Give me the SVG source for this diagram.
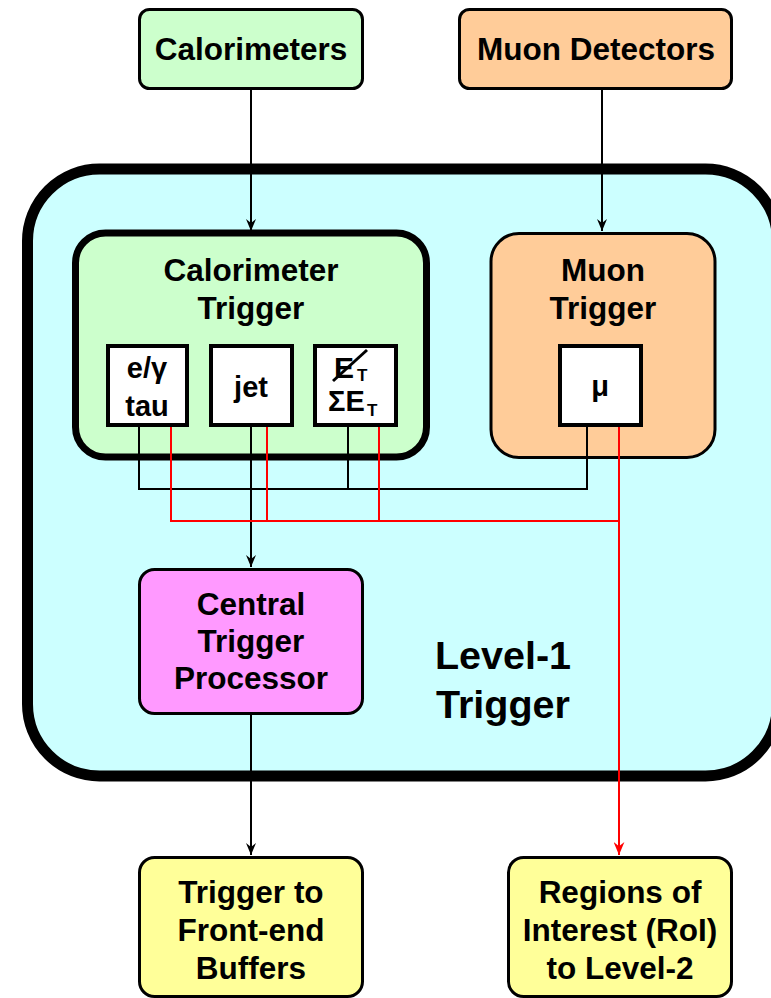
<svg xmlns="http://www.w3.org/2000/svg" width="771" height="998" viewBox="0 0 771 998">
<defs>
<marker id="ab" viewBox="0 0 12 10" refX="12" refY="5" markerWidth="12" markerHeight="10" markerUnits="userSpaceOnUse" orient="auto">
<path d="M0,0 L12,5 L0,10 L4,5 Z" fill="#000"/>
</marker>
<marker id="ar" viewBox="0 0 12 10" refX="12" refY="5" markerWidth="13" markerHeight="11" markerUnits="userSpaceOnUse" orient="auto">
<path d="M0,0 L12,5 L0,10 L4,5 Z" fill="#f00"/>
</marker>
</defs>
<style>
text{font-family:"Liberation Sans",Arial,sans-serif;font-weight:bold;fill:#000;text-anchor:middle}
.t{font-size:31.5px}
.s{font-size:29px}
.e{font-size:30px;text-anchor:start}
.big{font-size:39.5px}
.sub{font-size:17px;text-anchor:start}
.box{stroke:#000;stroke-width:3}
.blk{fill:none;stroke:#000;stroke-width:2}
.red{fill:none;stroke:#f00;stroke-width:2}
</style>
<g id="level1">
<rect x="27.5" y="169" width="750" height="607" rx="72" fill="#ccffff" stroke="#000" stroke-width="11"/>
<text class="big" x="503" y="669">Level-1</text>
<text class="big" x="503" y="718">Trigger</text>
</g>
<g id="calorimeters">
<rect class="box" x="139.5" y="9.5" width="223" height="79" rx="10" fill="#ccffcc"/>
<text class="t" x="251" y="60">Calorimeters</text>
</g>
<g id="muon-detectors">
<rect class="box" x="459.5" y="9.5" width="272" height="79" rx="10" fill="#ffcc99"/>
<text class="t" x="596" y="60">Muon Detectors</text>
</g>
<g id="calorimeter-trigger">
<rect x="75.5" y="233" width="351" height="224" rx="30" fill="#ccffcc" stroke="#000" stroke-width="7"/>
<text class="t" x="251" y="281">Calorimeter</text>
<text class="t" x="251" y="319">Trigger</text>
</g>
<g id="egamma">
<rect x="108" y="346" width="79" height="79" fill="#fff" stroke="#000" stroke-width="4"/>
<text class="s" x="147" y="378">e/γ</text>
<text class="s" x="147" y="416">tau</text>
</g>
<g id="jet">
<rect x="211" y="346" width="81" height="79" fill="#fff" stroke="#000" stroke-width="4"/>
<text class="s" x="251" y="397">jet</text>
</g>
<g id="et">
<rect x="315" y="346" width="81" height="79" fill="#fff" stroke="#000" stroke-width="4"/>
<text class="e" x="334" y="378">E</text>
<text class="sub" x="357" y="381">T</text>
<line x1="333" y1="381" x2="367" y2="350" stroke="#000" stroke-width="3"/>
<text class="e" x="328" y="411" style="font-size:29px">ΣE</text>
<text class="sub" x="367" y="416">T</text>
</g>
<g id="muon-trigger">
<rect class="box" x="491" y="233.5" width="224" height="224" rx="28" fill="#ffcc99"/>
<text class="t" x="603" y="281">Muon</text>
<text class="t" x="603" y="319">Trigger</text>
</g>
<g id="mu">
<rect x="560" y="346" width="81" height="79" fill="#fff" stroke="#000" stroke-width="4"/>
<text class="s" x="600" y="396">μ</text>
</g>
<g id="ctp">
<rect class="box" x="139.5" y="569.5" width="223" height="144" rx="15" fill="#ff99ff"/>
<text class="t" x="251" y="615">Central</text>
<text class="t" x="251" y="652">Trigger</text>
<text class="t" x="251" y="689">Processor</text>
</g>
<g id="frontend">
<rect class="box" x="139.5" y="857.5" width="223" height="139" rx="15" fill="#ffff99"/>
<text class="t" x="251" y="903">Trigger to</text>
<text class="t" x="251" y="941">Front-end</text>
<text class="t" x="251" y="979">Buffers</text>
</g>
<g id="roi">
<rect class="box" x="508.5" y="857.5" width="223" height="139" rx="15" fill="#ffff99"/>
<text class="t" x="620" y="903">Regions of</text>
<text class="t" x="620" y="941">Interest (RoI)</text>
<text class="t" x="620" y="979">to Level-2</text>
</g>
<g id="connectors">
<line class="blk" x1="251" y1="89" x2="251" y2="231" marker-end="url(#ab)"/>
<line class="blk" x1="602" y1="89" x2="602" y2="231" marker-end="url(#ab)"/>
<polyline class="blk" points="139,427 139,489 587,489 587,427"/>
<line class="blk" x1="348" y1="427" x2="348" y2="489"/>
<line class="blk" x1="251" y1="427" x2="251" y2="567" marker-end="url(#ab)"/>
<line class="blk" x1="251" y1="714" x2="251" y2="855" marker-end="url(#ab)"/>
<polyline class="red" points="171,427 171,521 619,521"/>
<line class="red" x1="267" y1="427" x2="267" y2="521"/>
<line class="red" x1="379" y1="427" x2="379" y2="521"/>
<line class="red" x1="619" y1="427" x2="619" y2="855" marker-end="url(#ar)"/>
</g>
</svg>
